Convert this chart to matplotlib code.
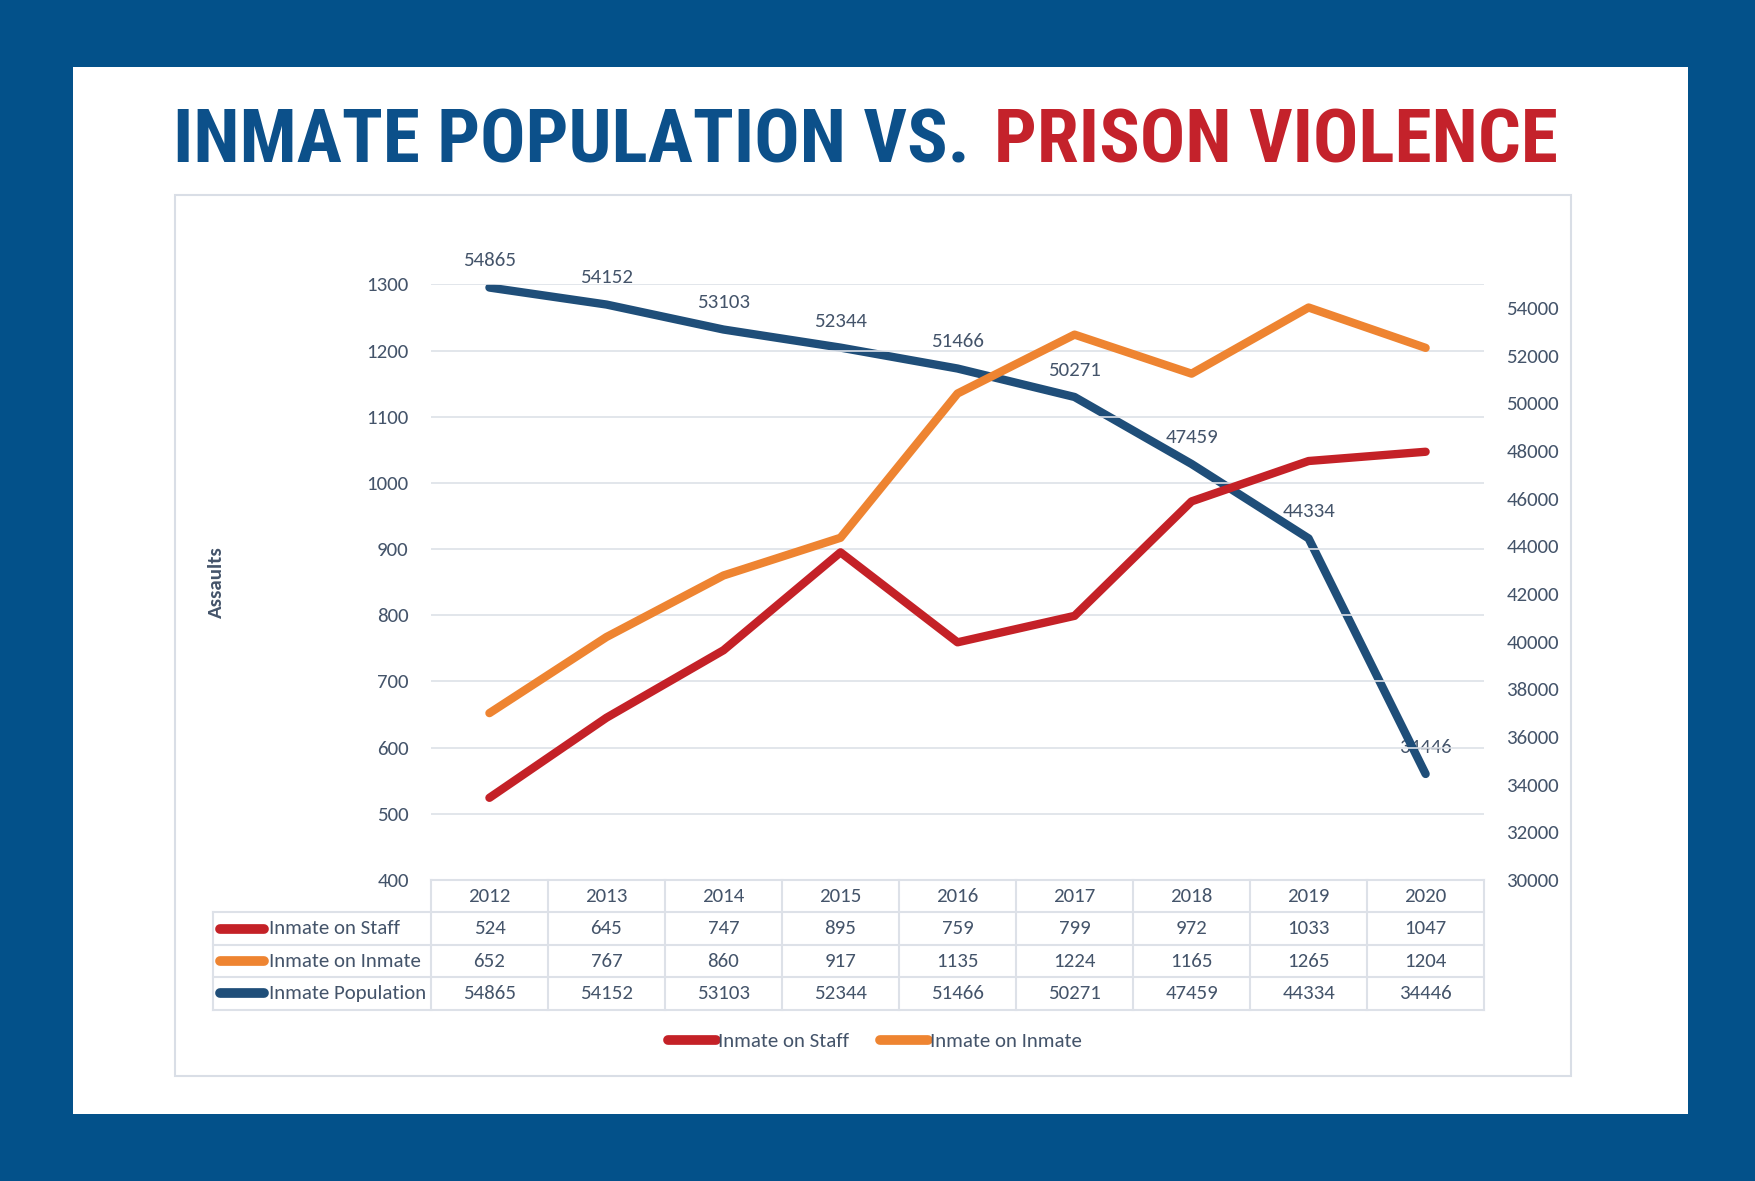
import matplotlib
matplotlib.use("Agg")
import matplotlib.pyplot as plt
from matplotlib.lines import Line2D
from matplotlib.patches import Rectangle
from matplotlib.transforms import blended_transform_factory
import matplotlib.font_manager as fm

years = ["2012", "2013", "2014", "2015", "2016", "2017", "2018", "2019", "2020"]
inmate_on_staff = [524, 645, 747, 895, 759, 799, 972, 1033, 1047]
inmate_on_inmate = [652, 767, 860, 917, 1135, 1224, 1165, 1265, 1204]
inmate_population = [54865, 54152, 53103, 52344, 51466, 50271, 47459, 44334, 34446]

BG = "#03518A"
TITLE_BLUE = "#0C508A"
TITLE_RED = "#C4222B"
RED = "#C42127"
ORANGE = "#EE8431"
NAVY = "#1F4E79"
TXT = "#44546A"
GRID = "#DDE1E8"

names = set(f.name for f in fm.fontManager.ttflist)


def pick(cands):
    for c in cands:
        if c in names:
            return c
    return "DejaVu Sans"


BODY = pick(["Carlito", "Lato", "Open Sans"])
TITLE_FONT = pick(["Roboto Condensed", "Liberation Sans Narrow", "Open Sans Condensed", "Roboto"])
plt.rcParams["font.family"] = [BODY, "DejaVu Sans"]

W, H = 1568.0, 1055.0   # layout measured on a 1568x1055 view


def fx(x):
    return x / W


def fy(y):
    return 1 - y / H


fig = plt.figure(figsize=(17.55, 11.81), dpi=100)
fig.patch.set_facecolor(BG)

# white card and chart frame
fig.add_artist(Rectangle((fx(65), fy(995)), fx(1508) - fx(65), fy(60) - fy(995),
                         transform=fig.transFigure, facecolor="white", edgecolor="none", zorder=0))
fig.add_artist(Rectangle((fx(156), fy(961)), fx(1404) - fx(156), fy(174) - fy(961),
                         transform=fig.transFigure, facecolor="none", edgecolor="#D9DEE6",
                         lw=1.5, zorder=1))

# title in two colours, sized to fit the measured width
tkw = dict(fontweight="bold", ha="left", va="center", family=[TITLE_FONT, "DejaVu Sans"],
           fontstretch="condensed")
t1 = fig.text(fx(155), fy(127), "INMATE POPULATION VS.", color=TITLE_BLUE, fontsize=60, **tkw)
t2 = fig.text(fx(886), fy(127), "PRISON VIOLENCE", color=TITLE_RED, fontsize=60, **tkw)
fig.canvas.draw()
r = fig.canvas.get_renderer()
figw = fig.bbox.width
w1 = t1.get_window_extent(r).width
w2 = t2.get_window_extent(r).width
gap = 21 / W * figw
target = (1393 - 155) / W * figw - gap
size = 60 * target / (w1 + w2)
t1.set_fontsize(size)
t2.set_fontsize(size)
fig.canvas.draw()
b1 = t1.get_window_extent(r)
t2.set_x((b1.x1 + gap) / figw)

# plot area
ax = fig.add_axes([fx(385), fy(786), fx(1326) - fx(385), fy(254) - fy(786)])
ax2 = ax.twinx()
ax.set_zorder(ax2.get_zorder() + 1)
ax.patch.set_visible(False)

xs = list(range(len(years)))
LW = 6
l_staff, = ax.plot(xs, inmate_on_staff, color=RED, lw=LW, solid_capstyle="round",
                   label="Inmate on Staff", zorder=3)
l_inmate, = ax.plot(xs, inmate_on_inmate, color=ORANGE, lw=LW, solid_capstyle="round",
                    label="Inmate on Inmate", zorder=3)
l_pop, = ax2.plot(xs, inmate_population, color=NAVY, lw=LW, solid_capstyle="round",
                  label="Inmate Population", zorder=3)
for x, v in zip(xs, inmate_population):
    ax2.annotate(str(v), (x, v), xytext=(0, 13), textcoords="offset points",
                 ha="center", va="bottom", color=TXT, fontsize=15, zorder=1)

ax.set_xlim(-0.5, len(years) - 0.5)
ax.set_ylim(400, 1300)
ax.set_yticks(range(400, 1301, 100))
ax2.set_ylim(30000, 55000)
ax2.set_yticks(range(30000, 54001, 2000))
ax.set_xticks([])
for a in (ax, ax2):
    for s in a.spines.values():
        s.set_visible(False)
    a.tick_params(axis="y", length=0, labelsize=15, labelcolor=TXT, pad=16)
ax.yaxis.grid(True, color=GRID, lw=1.2)
ax.set_axisbelow(True)
ax2.set_xticks([])

fig.text(fx(193), fy(520), "Assaults", rotation=90, ha="center", va="center",
         fontsize=15, fontweight="bold", color=TXT)

# data table under the plot
tr = blended_transform_factory(ax.transData, fig.transFigure)
row_y = [786, 815, 844, 873, 902]
rows = [("Inmate on Staff", RED, inmate_on_staff),
        ("Inmate on Inmate", ORANGE, inmate_on_inmate),
        ("Inmate Population", NAVY, inmate_population)]

x_left = -0.5
fig.add_artist(Line2D([fx(385), fx(1326)], [fy(786), fy(786)], transform=fig.transFigure,
                      color=GRID, lw=1.5))
for y in row_y[1:]:
    fig.add_artist(Line2D([fx(190), fx(1326)], [fy(y), fy(y)], transform=fig.transFigure,
                          color=GRID, lw=1.5))
fig.add_artist(Line2D([fx(190), fx(190)], [fy(815), fy(902)], transform=fig.transFigure,
                      color=GRID, lw=1.5))
for k in range(len(years) + 1):
    fig.add_artist(Line2D([x_left + k, x_left + k], [fy(786), fy(902)], transform=tr,
                          color=GRID, lw=1.5))

for x, yr in zip(xs, years):
    fig.text(x, fy(800.5), yr, transform=tr, ha="center", va="center", fontsize=15, color=TXT)

for i, (name, col, vals) in enumerate(rows):
    yc = fy((row_y[i + 1] + row_y[i + 2]) / 2)
    fig.add_artist(Line2D([fx(197), fx(236)], [yc, yc], transform=fig.transFigure,
                          color=col, lw=7, solid_capstyle="round"))
    fig.text(fx(240), yc, name, ha="left", va="center", fontsize=15, color=TXT)
    for x, v in zip(xs, vals):
        fig.text(x, yc, str(v), transform=tr, ha="center", va="center", fontsize=15, color=TXT)

leg = fig.legend(handles=[l_staff, l_inmate], loc="center", bbox_to_anchor=(fx(782), fy(930)),
                 ncol=2, frameon=False, fontsize=15, handlelength=2.3, handletextpad=0.1,
                 columnspacing=1.5, labelcolor=TXT)
for h in leg.legend_handles:
    h.set_linewidth(7)

fig.savefig("out.png", dpi=100, facecolor=BG)
